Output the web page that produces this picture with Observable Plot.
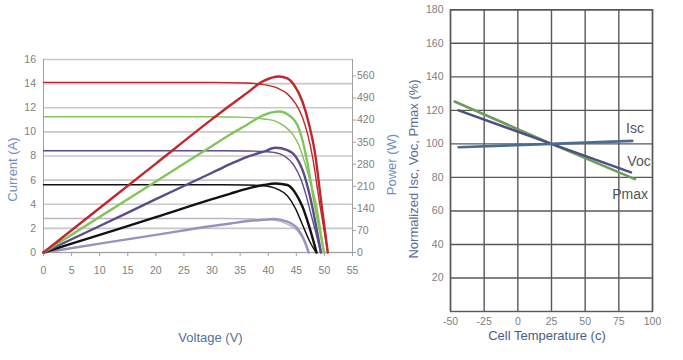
<!DOCTYPE html>
<html>
<head>
<meta charset="utf-8">
<script src="https://cdn.jsdelivr.net/npm/d3@7"></script>
<script src="https://cdn.jsdelivr.net/npm/@observablehq/plot@0.6"></script>
<style>
  html, body { margin: 0; padding: 0; background: #fff; }
  #wrap { display: flex; flex-direction: row; width: 683px; height: 360px; }
</style>
</head>
<body>
<div id="wrap"></div>
<script>
// ---------- Left chart: I-V and P-V curves (voltage V, value) ----------
const voltTicks = [0, 5, 10, 15, 20, 25, 30, 35, 40, 45, 50, 55];
const currentTicks = [0, 2, 4, 6, 8, 10, 12, 14, 16];
const powerTicks = [0, 70, 140, 210, 280, 350, 420, 490, 560];

const ivRed = [[0,14.1],[30,14.1],[36,14.05],[39.2,13.92],[41.6,13.64],[43.4,13.15],[44.9,12.32],[46.1,11.2],[47.0,9.83],[47.9,7.9],[49.1,4.2],[50.6,0]];
const ivGreen = [[0,11.26],[30,11.26],[36,11.2],[39.2,11.07],[41.0,10.93],[42.8,10.5],[44.3,9.83],[45.5,8.85],[46.4,7.6],[47.5,5.8],[48.6,3.9],[49.9,0]];
const ivPurple = [[0,8.44],[30,8.44],[36,8.42],[39.2,8.38],[41.0,8.3],[42.8,8.02],[44.6,7.2],[45.8,6.09],[46.7,4.8],[47.6,3.2],[48.5,1.6],[49.3,0]];
const ivBlack = [[0,5.62],[30,5.62],[36,5.6],[39.2,5.53],[41.6,5.26],[43.4,4.7],[44.9,3.6],[46.1,2.3],[47.3,1.0],[48.5,0]];
const ivLight = [[0,2.82],[30,2.82],[36,2.8],[39,2.76],[41.0,2.69],[43.4,2.36],[45.2,1.8],[46.4,0.9],[47.1,0]];

const pvRed = [[0,0],[10,141],[20,282],[30,423],[33.3,468],[36,503],[39.2,544],[41.9,558],[43.4,552],[44.6,531],[46.1,478],[47.3,404],[48.3,318],[49.5,150],[50.6,0]];
const pvGreen = [[0,0],[10,113],[20,225],[30,338],[33.3,375],[36,403],[39.2,436],[41.9,447],[44.0,431],[45.2,404],[46.1,356],[46.8,300],[48.2,160],[49.95,0]];
const pvPurple = [[0,0],[10,84],[20,169],[30,253],[33.3,281],[36,302],[39.2,320],[41.3,332],[43.4,325],[44.9,304],[46.1,262],[47.0,209],[47.9,140],[48.6,75],[49.4,0]];
const pvBlack = [[0,0],[10,56],[20,112],[30,169],[33.3,187],[36,201],[39.2,214],[41.3,219],[43.4,214],[44.9,187],[46.1,145],[47.3,82],[48.6,0]];
const pvLight = [[0,0],[10,28],[20,56],[30,84],[33.3,92],[36,99],[39.2,104],[41.0,106],[43.4,98],[45.2,76],[46.4,40],[47.2,0]];

// ---------- Right chart: normalized values vs cell temperature ----------
const tempTicks = [-50, -25, 0, 25, 50, 75, 100];
const normTicks = [20, 40, 60, 80, 100, 120, 140, 160, 180];
const tcIsc = [[-44,98],[25,100],[85,101.8]];
const tcVoc = [[-44,120],[25,100],[84,83]];
const tcPmax = [[-47,125.3],[25,100],[87,79]];
const tcLabels = [
  {name: "Isc", t: 87, v: 109.3},
  {name: "Voc", t: 90, v: 89.4},
  {name: "Pmax", t: 83.4, v: 69.7}
];

// watts per amp on the secondary (right) axis
const WPA = 560 / 14.64;

const font = "Liberation Sans, Arial, sans-serif";
const tickFont = 10.5;

const ivStyle = {x: d => d[0], y: d => d[1], curve: "monotone-x", strokeWidth: 1.4};
const pvStyle = {x: d => d[0], y: d => d[1] / WPA, curve: "monotone-x", strokeWidth: 2.4};
const title = {text: d => d, textAnchor: "middle", lineAnchor: "middle", fontSize: 13};

const left = Plot.plot({
  width: 400, height: 360,
  marginLeft: 43, marginRight: 48, marginTop: 59, marginBottom: 108,
  x: {domain: [0, 55]},
  y: {domain: [0, 16]},
  style: {fontFamily: font, fontSize: tickFont + "px", color: "#808080", background: "#fff", overflow: "visible"},
  marks: [
    Plot.gridY(currentTicks, {stroke: "#c8c8c8", strokeOpacity: 1, strokeWidth: 1.6}),
    Plot.ruleX([0, 55], {stroke: "#a0a0a0", strokeWidth: 1}),
    Plot.ruleY([0], {stroke: "#a0a0a0", strokeWidth: 1}),
    Plot.axisY(currentTicks, {anchor: "left", tickSize: 0, tickPadding: 7.5, label: null, fill: "#808080", fontSize: tickFont}),
    Plot.axisY(powerTicks.map(w => w / WPA), {anchor: "right", tickSize: 3, tickPadding: 1.5,
      tickFormat: d => String(Math.round(d * WPA)), label: null, fill: "#808080", stroke: "#a0a0a0", fontSize: tickFont}),
    Plot.axisX(voltTicks, {anchor: "bottom", tickSize: 4, tickPadding: 10, label: null, fill: "#808080", stroke: "#a0a0a0", fontSize: tickFont}),
    // I-V curves
    Plot.line(ivLight, {...ivStyle, stroke: "#b8b5c4"}),
    Plot.line(ivBlack, {...ivStyle, stroke: "#111111"}),
    Plot.line(ivPurple, {...ivStyle, stroke: "#5c4b8a"}),
    Plot.line(ivGreen, {...ivStyle, stroke: "#84c45c"}),
    Plot.line(ivRed, {...ivStyle, stroke: "#c1272d"}),
    // P-V curves
    Plot.line(pvLight, {...pvStyle, stroke: "#9d90bf"}),
    Plot.line(pvBlack, {...pvStyle, stroke: "#111111"}),
    Plot.line(pvPurple, {...pvStyle, stroke: "#5c4b8a"}),
    Plot.line(pvGreen, {...pvStyle, stroke: "#84c45c"}),
    Plot.line(pvRed, {...pvStyle, stroke: "#c1272d"}),
    // axis titles
    Plot.text(["Voltage (V)"], {...title, frameAnchor: "bottom", dx: 12.5, dy: 85, fill: "#55709a"}),
    Plot.text(["Current (A)"], {...title, frameAnchor: "left", dx: -30.7, dy: 13.5, rotate: -90, fill: "#6f8fba"}),
    Plot.text(["Power (W)"], {...title, frameAnchor: "right", dx: 39, dy: 8.5, rotate: -90, fill: "#6f8fba"})
  ]
});

const tcStyle = {x: d => d[0], y: d => d[1], strokeWidth: 2.6};

const right = Plot.plot({
  width: 283, height: 360,
  marginLeft: 50, marginRight: 31, marginTop: 9.3, marginBottom: 49,
  x: {domain: [-50, 100]},
  y: {domain: [0, 180]},
  style: {fontFamily: font, fontSize: tickFont + "px", color: "#808080", background: "#fff", overflow: "visible"},
  marks: [
    Plot.gridX(tempTicks, {stroke: "#58585a", strokeOpacity: 1, strokeWidth: 1.4}),
    Plot.gridY(normTicks, {stroke: "#58585a", strokeOpacity: 1, strokeWidth: 1.4}),
    Plot.frame({stroke: "#58585a", strokeWidth: 1.4}),
    Plot.axisX(tempTicks, {anchor: "bottom", tickSize: 0, tickPadding: 6, label: null, fill: "#808080",
      tickFormat: d => String(d), fontSize: tickFont}),
    Plot.axisY(normTicks, {anchor: "left", tickSize: 0, tickPadding: 7, label: null, fill: "#808080", fontSize: tickFont}),
    Plot.line(tcPmax, {...tcStyle, stroke: "#6b9e5c"}),
    Plot.line(tcVoc, {...tcStyle, stroke: "#4e4f82"}),
    Plot.line(tcIsc, {...tcStyle, stroke: "#4c6b90"}),
    Plot.text(tcLabels, {x: "t", y: "v", text: "name", fill: "#555", fontSize: 14}),
    Plot.text(["Normalized Isc, Voc, Pmax (%)"], {...title, frameAnchor: "left", dx: -36.7, dy: 8.3, rotate: -90, fill: "#5a6e98"}),
    Plot.text(["Cell Temperature (c)"], {...title, frameAnchor: "bottom", dx: -4.5, dy: 24.7, fill: "#4a5d86"})
  ]
});

const wrap = document.getElementById("wrap");
wrap.appendChild(left);
wrap.appendChild(right);
</script>
</body>
</html>
